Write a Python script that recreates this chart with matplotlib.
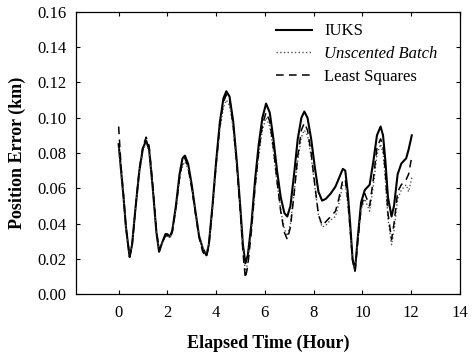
import matplotlib
matplotlib.use("Agg")
import matplotlib.pyplot as plt

# elapsed time (hours) and position error (km) for the three estimators
tiempo = [0.0, 0.1, 0.2, 0.3, 0.45, 0.55, 0.7, 0.85, 1.0, 1.13, 1.25, 1.4, 1.55, 1.66,
          1.78, 1.92, 2.0, 2.1, 2.2, 2.35, 2.5, 2.62, 2.72, 2.85, 3.0, 3.15, 3.3, 3.45,
          3.6, 3.7, 3.85, 4.0, 4.15, 4.3, 4.42, 4.55, 4.7, 4.85, 5.0, 5.1, 5.2, 5.3,
          5.45, 5.6, 5.75, 5.9, 6.05, 6.2, 6.35, 6.5, 6.65, 6.8, 6.92, 7.05, 7.2, 7.35,
          7.5, 7.62, 7.75, 7.9, 8.05, 8.2, 8.35, 8.5, 8.7, 8.9, 9.05, 9.2, 9.3, 9.4,
          9.5, 9.6, 9.7, 9.8, 9.95, 10.1, 10.3, 10.45, 10.6, 10.75, 10.85, 10.95, 11.05,
          11.2, 11.3, 11.45, 11.6, 11.8, 11.9, 12.03]

iuks = [0.085, 0.070, 0.055, 0.038, 0.021, 0.028, 0.050, 0.070, 0.083, 0.087, 0.082,
        0.060, 0.035, 0.024, 0.029, 0.034, 0.034, 0.0325, 0.036, 0.050, 0.068, 0.077,
        0.0785, 0.074, 0.062, 0.047, 0.033, 0.026, 0.022, 0.028, 0.050, 0.075, 0.097,
        0.111, 0.115, 0.112, 0.098, 0.075, 0.048, 0.028, 0.0175, 0.022, 0.040, 0.065,
        0.085, 0.100, 0.108, 0.103, 0.088, 0.070, 0.055, 0.046, 0.044, 0.050, 0.068,
        0.088, 0.100, 0.1035, 0.100, 0.088, 0.072, 0.058, 0.053, 0.054, 0.057, 0.061,
        0.066, 0.071, 0.070, 0.058, 0.040, 0.020, 0.0135, 0.030, 0.052, 0.059, 0.062,
        0.075, 0.090, 0.095, 0.090, 0.075, 0.055, 0.044, 0.050, 0.068, 0.074, 0.077,
        0.082, 0.090]

batch = [0.083, 0.069, 0.054, 0.037, 0.022, 0.028, 0.049, 0.069, 0.082, 0.085, 0.081,
         0.060, 0.035, 0.025, 0.029, 0.033, 0.033, 0.032, 0.035, 0.048, 0.065, 0.073,
         0.075, 0.071, 0.060, 0.046, 0.033, 0.026, 0.023, 0.028, 0.048, 0.072, 0.093,
         0.106, 0.110, 0.107, 0.094, 0.072, 0.046, 0.026, 0.012, 0.018, 0.037, 0.060,
         0.079, 0.093, 0.100, 0.095, 0.081, 0.063, 0.048, 0.037, 0.033, 0.040, 0.057,
         0.076, 0.089, 0.093, 0.090, 0.078, 0.061, 0.045, 0.038, 0.039, 0.042, 0.044,
         0.052, 0.062, 0.062, 0.052, 0.036, 0.019, 0.014, 0.029, 0.048, 0.054, 0.047,
         0.061, 0.079, 0.085, 0.080, 0.064, 0.043, 0.028, 0.036, 0.054, 0.059, 0.062,
         0.058, 0.066]

minimos = [0.095, 0.072, 0.056, 0.038, 0.021, 0.027, 0.050, 0.071, 0.084, 0.089, 0.084,
           0.062, 0.036, 0.025, 0.029, 0.033, 0.033, 0.032, 0.035, 0.049, 0.066, 0.075,
           0.077, 0.072, 0.060, 0.046, 0.032, 0.024, 0.021, 0.027, 0.049, 0.074, 0.095,
           0.109, 0.113, 0.110, 0.096, 0.073, 0.045, 0.024, 0.009, 0.016, 0.036, 0.061,
           0.081, 0.096, 0.103, 0.098, 0.083, 0.064, 0.047, 0.035, 0.031, 0.038, 0.057,
           0.078, 0.093, 0.097, 0.093, 0.080, 0.062, 0.045, 0.039, 0.041, 0.044, 0.047,
           0.055, 0.065, 0.065, 0.054, 0.037, 0.019, 0.013, 0.028, 0.049, 0.057, 0.050,
           0.065, 0.083, 0.088, 0.084, 0.068, 0.046, 0.031, 0.040, 0.058, 0.062, 0.065,
           0.068, 0.078]

x_ticks = [0, 2, 4, 6, 8, 10, 12, 14]
y_ticks = [0.00, 0.02, 0.04, 0.06, 0.08, 0.10, 0.12, 0.14, 0.16]

plt.rcParams['font.family'] = ['Liberation Serif', 'DejaVu Serif']
plt.rcParams['font.size'] = 12

fig = plt.figure(figsize=(4.75, 3.6), dpi=100)
ax = fig.add_axes([0.16, 0.183, 0.808, 0.784])

ax.plot(tiempo, iuks, color='black', lw=1.5, linestyle='-', label='IUKS')
ax.plot(tiempo, batch, color='#555555', lw=1.0, linestyle=':', label='Unscented Batch')
ax.plot(tiempo, minimos, color='black', lw=1.1, linestyle=(0, (5, 3.5)), label='Least Squares')

ax.set_xlim(-1.75, 14)
ax.set_ylim(0, 0.16)
ax.set_xticks(x_ticks)
ax.set_yticks(y_ticks)
ax.set_yticklabels([f"{v:.2f}" for v in y_ticks])
ax.tick_params(direction='in', top=True, right=True, length=3, width=0.8, labelsize=12)
ax.tick_params(axis='x', pad=8)
ax.tick_params(axis='y', pad=7)
for lado in ax.spines.values():
    lado.set_linewidth(0.9)

ax.set_xlabel("Elapsed Time (Hour)", fontweight='bold', fontsize=13, labelpad=10)
ax.set_ylabel("Position Error (km)", fontweight='bold', fontsize=13, labelpad=8)

leg = ax.legend(loc='upper left', bbox_to_anchor=(0.503, 0.983), borderaxespad=0,
                frameon=False, fontsize=12, handlelength=2.2, handletextpad=0.7,
                labelspacing=0.4)
leg.get_texts()[1].set_fontstyle('italic')

fig.savefig("out.png", dpi=100)
